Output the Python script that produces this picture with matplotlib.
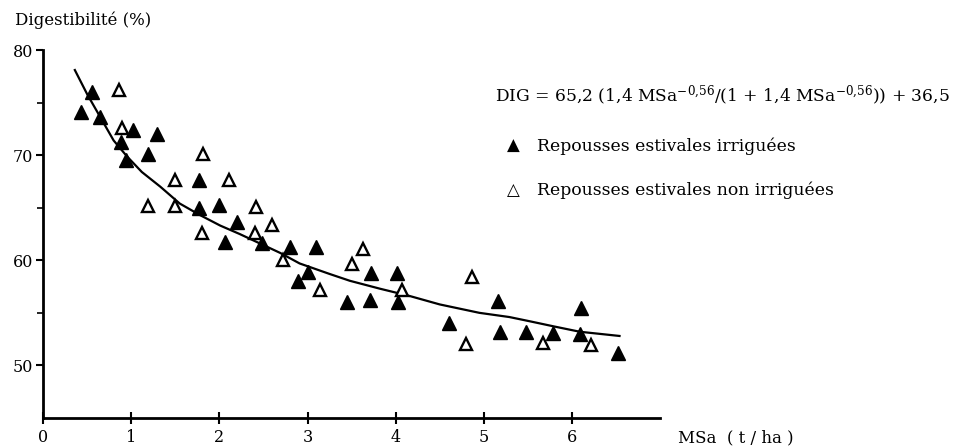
import matplotlib
matplotlib.use('Agg')
import matplotlib.pyplot as plt
import numpy as np

plt.rcParams['font.family'] = ['DejaVu Serif', 'DejaVu Sans']
plt.rcParams['mathtext.fontset'] = 'dejavuserif'

# Repousses estivales irriguees (filled triangles)
irr_x = [0.43, 0.56, 0.65, 0.88, 0.94, 1.02, 1.19, 1.29, 1.77, 1.77, 2.00, 2.06,
         2.20, 2.48, 2.80, 2.89, 3.01, 3.10, 3.45, 3.71, 3.72, 4.02, 4.03, 4.60,
         5.16, 5.18, 5.48, 5.79, 6.09, 6.10, 6.52]
irr_y = [74.1, 76.0, 73.6, 71.3, 69.5, 72.4, 70.1, 72.0, 67.6, 65.0, 65.3, 61.7,
         63.6, 61.6, 61.3, 58.0, 58.9, 61.3, 56.0, 56.2, 58.8, 58.8, 56.0, 54.0,
         56.1, 53.2, 53.2, 53.1, 53.0, 55.5, 51.2]

# Repousses estivales non irriguees (open triangles)
non_x = [0.86, 0.89, 1.19, 1.50, 1.50, 1.80, 1.81, 2.11, 2.40, 2.41, 2.60, 2.72,
         3.14, 3.51, 3.63, 4.07, 4.80, 4.87, 5.67, 6.22]
non_y = [76.2, 72.6, 65.2, 67.6, 65.2, 62.6, 70.1, 67.6, 62.6, 65.1, 63.4, 60.0,
         57.2, 59.6, 61.1, 57.2, 52.0, 58.4, 52.1, 51.9]

# fitted curve as drawn
fit_x = [0.36, 0.50, 0.65, 0.80, 0.95, 1.12, 1.33, 1.55, 1.78, 2.01, 2.23, 2.46,
         2.69, 2.91, 3.25, 3.48, 3.82, 4.16, 4.50, 4.95, 5.29, 5.52, 5.80, 6.09, 6.54]
fit_y = [78.1, 75.8, 73.6, 71.4, 69.9, 68.4, 67.0, 65.4, 64.3, 63.3, 62.5, 61.6,
         60.7, 59.7, 58.7, 58.05, 57.3, 56.6, 55.8, 55.0, 54.6, 54.2, 53.7, 53.2, 52.8]

fig = plt.figure(figsize=(9.58, 4.47), dpi=100)
ax = fig.add_axes([0.045, 0.065, 0.644, 0.823])

ax.plot(fit_x, fit_y, color='black', lw=1.6)
ax.plot(irr_x, irr_y, linestyle='none', marker='^', ms=10, color='black')
ax.plot(non_x, non_y, linestyle='none', marker='^', ms=9, mfc='white',
        mec='black', mew=1.7)

ax.set_xlim(0, 7)
ax.set_ylim(45, 80)
ax.spines['top'].set_visible(False)
ax.spines['right'].set_visible(False)
ax.spines['left'].set_linewidth(2)
ax.spines['bottom'].set_linewidth(2)

ax.set_xticks(range(0, 7))
ax.set_yticks([50, 60, 70, 80])
ax.set_yticks([55, 65, 75], minor=True)
ax.tick_params(axis='x', direction='inout', length=8, width=1.5, labelsize=11.5, pad=4)
ax.tick_params(axis='y', direction='out', length=5, width=1.5, labelsize=11.5, pad=2)
ax.tick_params(axis='y', which='minor', direction='out', length=4, width=1.2)

fig.text(0.016, 0.955, 'Digestibilité (%)', fontsize=12, ha='left', va='center')
fig.text(0.708, 0.02, 'MSa  ( t / ha )', fontsize=12, ha='left', va='center')

fig.text(0.517, 0.785,
         r'DIG = 65,2 (1,4 MSa$^{-0{,}56}$/(1 + 1,4 MSa$^{-0{,}56}$)) + 36,5',
         fontsize=12.3, ha='left', va='center')
fig.text(0.529, 0.673, '▲', fontsize=12, ha='left', va='center',
         family=['DejaVu Sans'])
fig.text(0.561, 0.673, 'Repousses estivales irriguées', fontsize=12.4,
         ha='left', va='center')
fig.text(0.529, 0.575, '△', fontsize=12, ha='left', va='center',
         family=['DejaVu Sans'])
fig.text(0.561, 0.575, 'Repousses estivales non irriguées', fontsize=12.4,
         ha='left', va='center')

fig.savefig('out.png', dpi=100)
